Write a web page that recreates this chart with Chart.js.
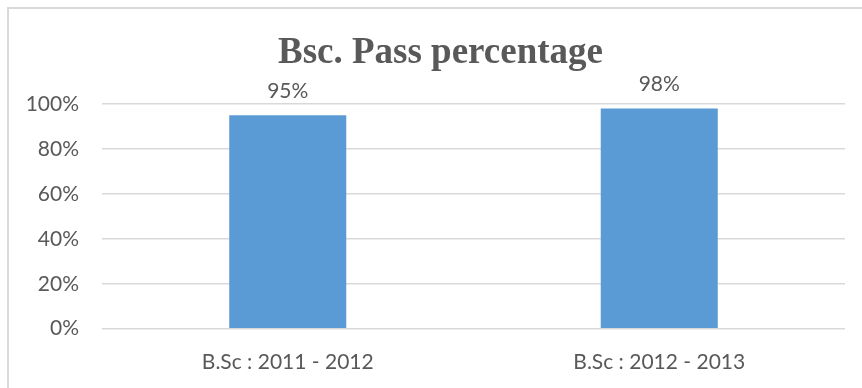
<!DOCTYPE html>
<html>
<head>
<meta charset="utf-8">
<script src="https://cdn.jsdelivr.net/npm/chart.js@4/dist/chart.umd.min.js"></script>
<style>
  html, body { margin: 0; padding: 0; background: #ffffff; }
  #c { display: block; }
</style>
</head>
<body>
<canvas id="c" width="862" height="388"></canvas>
<script>
const chartTitle = "Bsc. Pass percentage";
const categories = ["B.Sc : 2011 - 2012", "B.Sc : 2012 - 2013"];
const passRate = [0.95, 0.98];
const yTicks = [0, 0.2, 0.4, 0.6, 0.8, 1.0];

const textColor = "#595959";
const pct = v => Math.round(v * 100) + "%";

const framePlugin = {
  id: "frame",
  beforeDraw(chart) {
    const ctx = chart.ctx;
    ctx.save();
    ctx.fillStyle = "#ffffff";
    ctx.fillRect(0, 0, chart.width, chart.height);
    ctx.strokeStyle = "#d9d9d9";
    ctx.lineWidth = 2;
    ctx.strokeRect(8, 8, chart.width + 20, chart.height + 20);
    ctx.font = "bold 37px 'Liberation Serif', 'Times New Roman', serif";
    ctx.fillStyle = textColor;
    ctx.textAlign = "center";
    ctx.textBaseline = "alphabetic";
    ctx.fillText(chartTitle, 440.5, 63);
    ctx.restore();
  }
};

const labelPlugin = {
  id: "barLabels",
  afterDatasetsDraw(chart) {
    const ctx = chart.ctx;
    const meta = chart.getDatasetMeta(0);
    ctx.save();
    ctx.font = "21px Lato, 'Open Sans', sans-serif";
    ctx.fillStyle = textColor;
    ctx.textAlign = "center";
    ctx.textBaseline = "alphabetic";
    meta.data.forEach((bar, i) => {
      ctx.fillText(pct(passRate[i]), bar.x, bar.y - 17.5);
    });
    ctx.restore();
  }
};

new Chart(document.getElementById("c"), {
  type: "bar",
  data: {
    labels: categories,
    datasets: [{
      data: passRate,
      backgroundColor: "#5b9bd5",
      borderWidth: 0,
      categoryPercentage: 1.0,
      barPercentage: 0.315
    }]
  },
  options: {
    responsive: false,
    animation: false,
    devicePixelRatio: 1,
    layout: { padding: { top: 104, right: 17, left: 0, bottom: 0 } },
    plugins: {
      legend: { display: false },
      title: { display: false },
      tooltip: { enabled: false }
    },
    scales: {
      x: {
        grid: { display: false, drawTicks: false },
        border: { display: false },
        ticks: {
          color: textColor,
          font: { family: "Lato, 'Open Sans', sans-serif", size: 21 },
          padding: 21,
          maxRotation: 0
        },
        afterFit(scale) { scale.height = 59.3; }
      },
      y: {
        min: 0,
        max: 1,
        afterBuildTicks(scale) { scale.ticks = yTicks.map(v => ({ value: v })); },
        grid: { color: "#d9d9d9", lineWidth: 1.5, drawTicks: false },
        border: { display: false },
        ticks: {
          color: textColor,
          font: { family: "Lato, 'Open Sans', sans-serif", size: 21 },
          padding: 23,
          callback: v => pct(v)
        },
        afterFit(scale) { scale.width = 102; }
      }
    }
  },
  plugins: [framePlugin, labelPlugin]
});
</script>
</body>
</html>
